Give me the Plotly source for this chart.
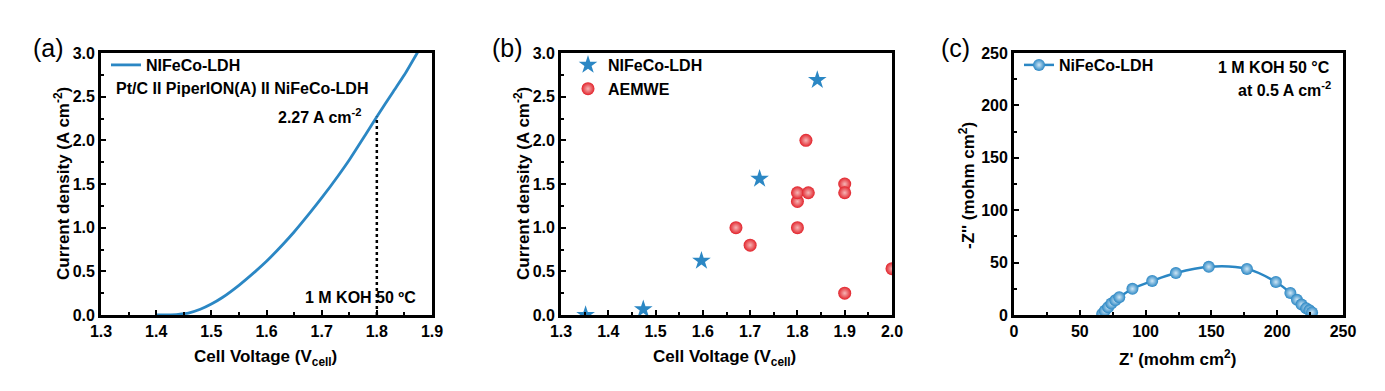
import plotly.graph_objects as go

# ---------------- data ----------------
# (a) polarization curve
volt_a = [1.40, 1.42, 1.44, 1.46, 1.48, 1.50, 1.52, 1.55, 1.58, 1.60, 1.63, 1.65,
          1.68, 1.70, 1.73, 1.75, 1.78, 1.80, 1.83, 1.85, 1.875]
curr_a = [0.0, 0.002, 0.008, 0.025, 0.065, 0.125, 0.20, 0.34, 0.50, 0.615, 0.81, 0.95,
          1.18, 1.34, 1.595, 1.775, 2.07, 2.27, 2.56, 2.75, 3.02]
mark_v = 1.80
mark_j = 2.27

# (b) comparison
ldh_v = [1.352, 1.474, 1.597, 1.720, 1.842]
ldh_j = [0.0, 0.065, 0.62, 1.56, 2.69]
aem_v = [1.67, 1.70, 1.80, 1.80, 1.80, 1.823, 1.818, 1.90, 1.90, 1.90, 2.0]
aem_j = [1.00, 0.80, 1.00, 1.30, 1.40, 1.40, 2.00, 1.50, 1.40, 0.25, 0.53]

# (c) Nyquist plot
z_re = [67, 69, 71.5, 74, 77, 80, 90, 105, 123, 148, 177, 199, 210, 215, 218.5, 222, 224.5, 226.5]
z_im = [1, 4, 7.5, 11, 14, 17, 25, 32.5, 40, 46, 44, 31.5, 21, 14.5, 10, 6.5, 4.5, 2.5]

BLUE = "#2B87C4"
RED = "#E2232B"
FONT = "Liberation Sans"
OFF = 8                      # page body margin
W, H = 1385 - 2 * OFF, 391 - 2 * OFF

def px(x):
    return (x - OFF) / W

def py(y):
    return 1 - (y - OFF) / H

fig = go.Figure()

# (a)
fig.add_trace(go.Scatter(x=volt_a, y=curr_a, mode="lines", name="NIFeCo-LDH",
                         line=dict(color=BLUE, width=2.8, shape="spline", smoothing=0.6),
                         xaxis="x", yaxis="y", legend="legend"))
fig.add_trace(go.Scatter(x=[mark_v, mark_v], y=[0, mark_j], mode="lines",
                         line=dict(color="black", width=2.5, dash="dot"),
                         showlegend=False, xaxis="x", yaxis="y"))

# (b)
fig.add_trace(go.Scatter(x=ldh_v, y=ldh_j, mode="markers", name="NIFeCo-LDH",
                         marker=dict(symbol="star", size=14, color=BLUE, line=dict(width=0)),
                         xaxis="x2", yaxis="y2", legend="legend2"))
fig.add_trace(go.Scatter(x=aem_v, y=aem_j, mode="markers", name="AEMWE",
                         marker=dict(symbol="circle", size=13, color=RED,
                                     gradient=dict(type="radial", color="#F6B5B5"),
                                     line=dict(width=0)),
                         xaxis="x2", yaxis="y2", legend="legend2"))

# (c)
fig.add_trace(go.Scatter(x=z_re, y=z_im, mode="lines+markers", name="NiFeCo-LDH",
                         line=dict(color=BLUE, width=2.5, shape="spline"),
                         marker=dict(symbol="circle", size=12, color=BLUE,
                                     gradient=dict(type="radial", color="#CFE6F5"),
                                     line=dict(width=0)),
                         xaxis="x3", yaxis="y3", legend="legend3"))

tickfont = dict(family=FONT, size=16, color="black", weight="bold")

def axis(domain, rng, dtick, minor, fmt, anchor):
    return dict(domain=domain, range=rng, dtick=dtick, tick0=rng[0], automargin=False,
                showgrid=False, zeroline=False, showline=True, linecolor="black",
                linewidth=2.8, mirror=True, ticks="inside", ticklen=5, tickwidth=2,
                tickcolor="black", tickfont=tickfont, tickformat=fmt, anchor=anchor,
                minor=dict(ticks="inside", ticklen=3, tickwidth=2, dtick=minor,
                           tickcolor="black", showgrid=False))

ydom = [py(315), py(53)]
legfont = dict(family=FONT, size=16, color="black", weight="bold")
fig.update_layout(
    width=W, height=H,
    margin=dict(l=0, r=0, t=0, b=0, autoexpand=False),
    paper_bgcolor="white", plot_bgcolor="white",
    xaxis=axis([px(101), px(432)], [1.3, 1.9], 0.1, 0.05, ".1f", "y"),
    yaxis=axis(ydom, [0, 3.0], 0.5, 0.25, ".1f", "x"),
    xaxis2=axis([px(561), px(892)], [1.3, 2.0], 0.1, 0.05, ".1f", "y2"),
    yaxis2=axis(ydom, [0, 3.0], 0.5, 0.25, ".1f", "x2"),
    xaxis3=axis([px(1014), px(1343)], [0, 250], 50, 25, "d", "y3"),
    yaxis3=axis(ydom, [0, 250], 50, 25, "d", "x3"),
    legend=dict(x=px(106), y=py(48), xanchor="left", yanchor="top",
                bgcolor="rgba(0,0,0,0)", font=legfont),
    legend2=dict(x=px(568), y=py(48), xanchor="left", yanchor="top",
                 bgcolor="rgba(0,0,0,0)", font=legfont),
    legend3=dict(x=px(1019), y=py(48), xanchor="left", yanchor="top",
                 bgcolor="rgba(0,0,0,0)", font=legfont),
)

def ann(text, x, y, xanchor="center", size=16, bold=True, angle=0):
    fig.add_annotation(text=text, x=px(x), y=py(y), xref="paper", yref="paper",
                       xanchor=xanchor, yanchor="middle", showarrow=False, textangle=angle,
                       font=dict(family=FONT, size=size, color="black",
                                 weight="bold" if bold else "normal"))

# panel labels
ann("(a)", 48, 48, size=25, bold=False)
ann("(b)", 507, 48, size=25, bold=False)
ann("(c)", 955, 48, size=25, bold=False)

# axis titles
ann("Cell Voltage (V<sub>cell</sub>)", 265, 358, size=17)
ann("Cell Voltage (V<sub>cell</sub>)", 725, 358, size=17)
ann("Z' (mohm cm<sup>2</sup>)", 1177, 358, size=17)
ann("Current density (A cm<sup>-2</sup>)", 62, 184, size=17, angle=-90)
ann("Current density (A cm<sup>-2</sup>)", 522, 184, size=17, angle=-90)
ann("-Z'' (mohm cm<sup>2</sup>)", 967, 186, size=17, angle=-90)

# panel (a) texts
ann("Pt/C II PiperION(A) II NiFeCo-LDH", 114, 88, xanchor="left")
ann("%.2f A cm<sup>-2</sup>" % mark_j, 363, 116, xanchor="right")
ann("1 M KOH 50 ºC", 418, 297, xanchor="right")

# panel (c) texts
ann("1 M KOH 50 °C", 1332, 67, xanchor="right")
ann("at 0.5 A cm<sup>-2</sup>", 1333, 89, xanchor="right")

fig.write_html("out.html")
